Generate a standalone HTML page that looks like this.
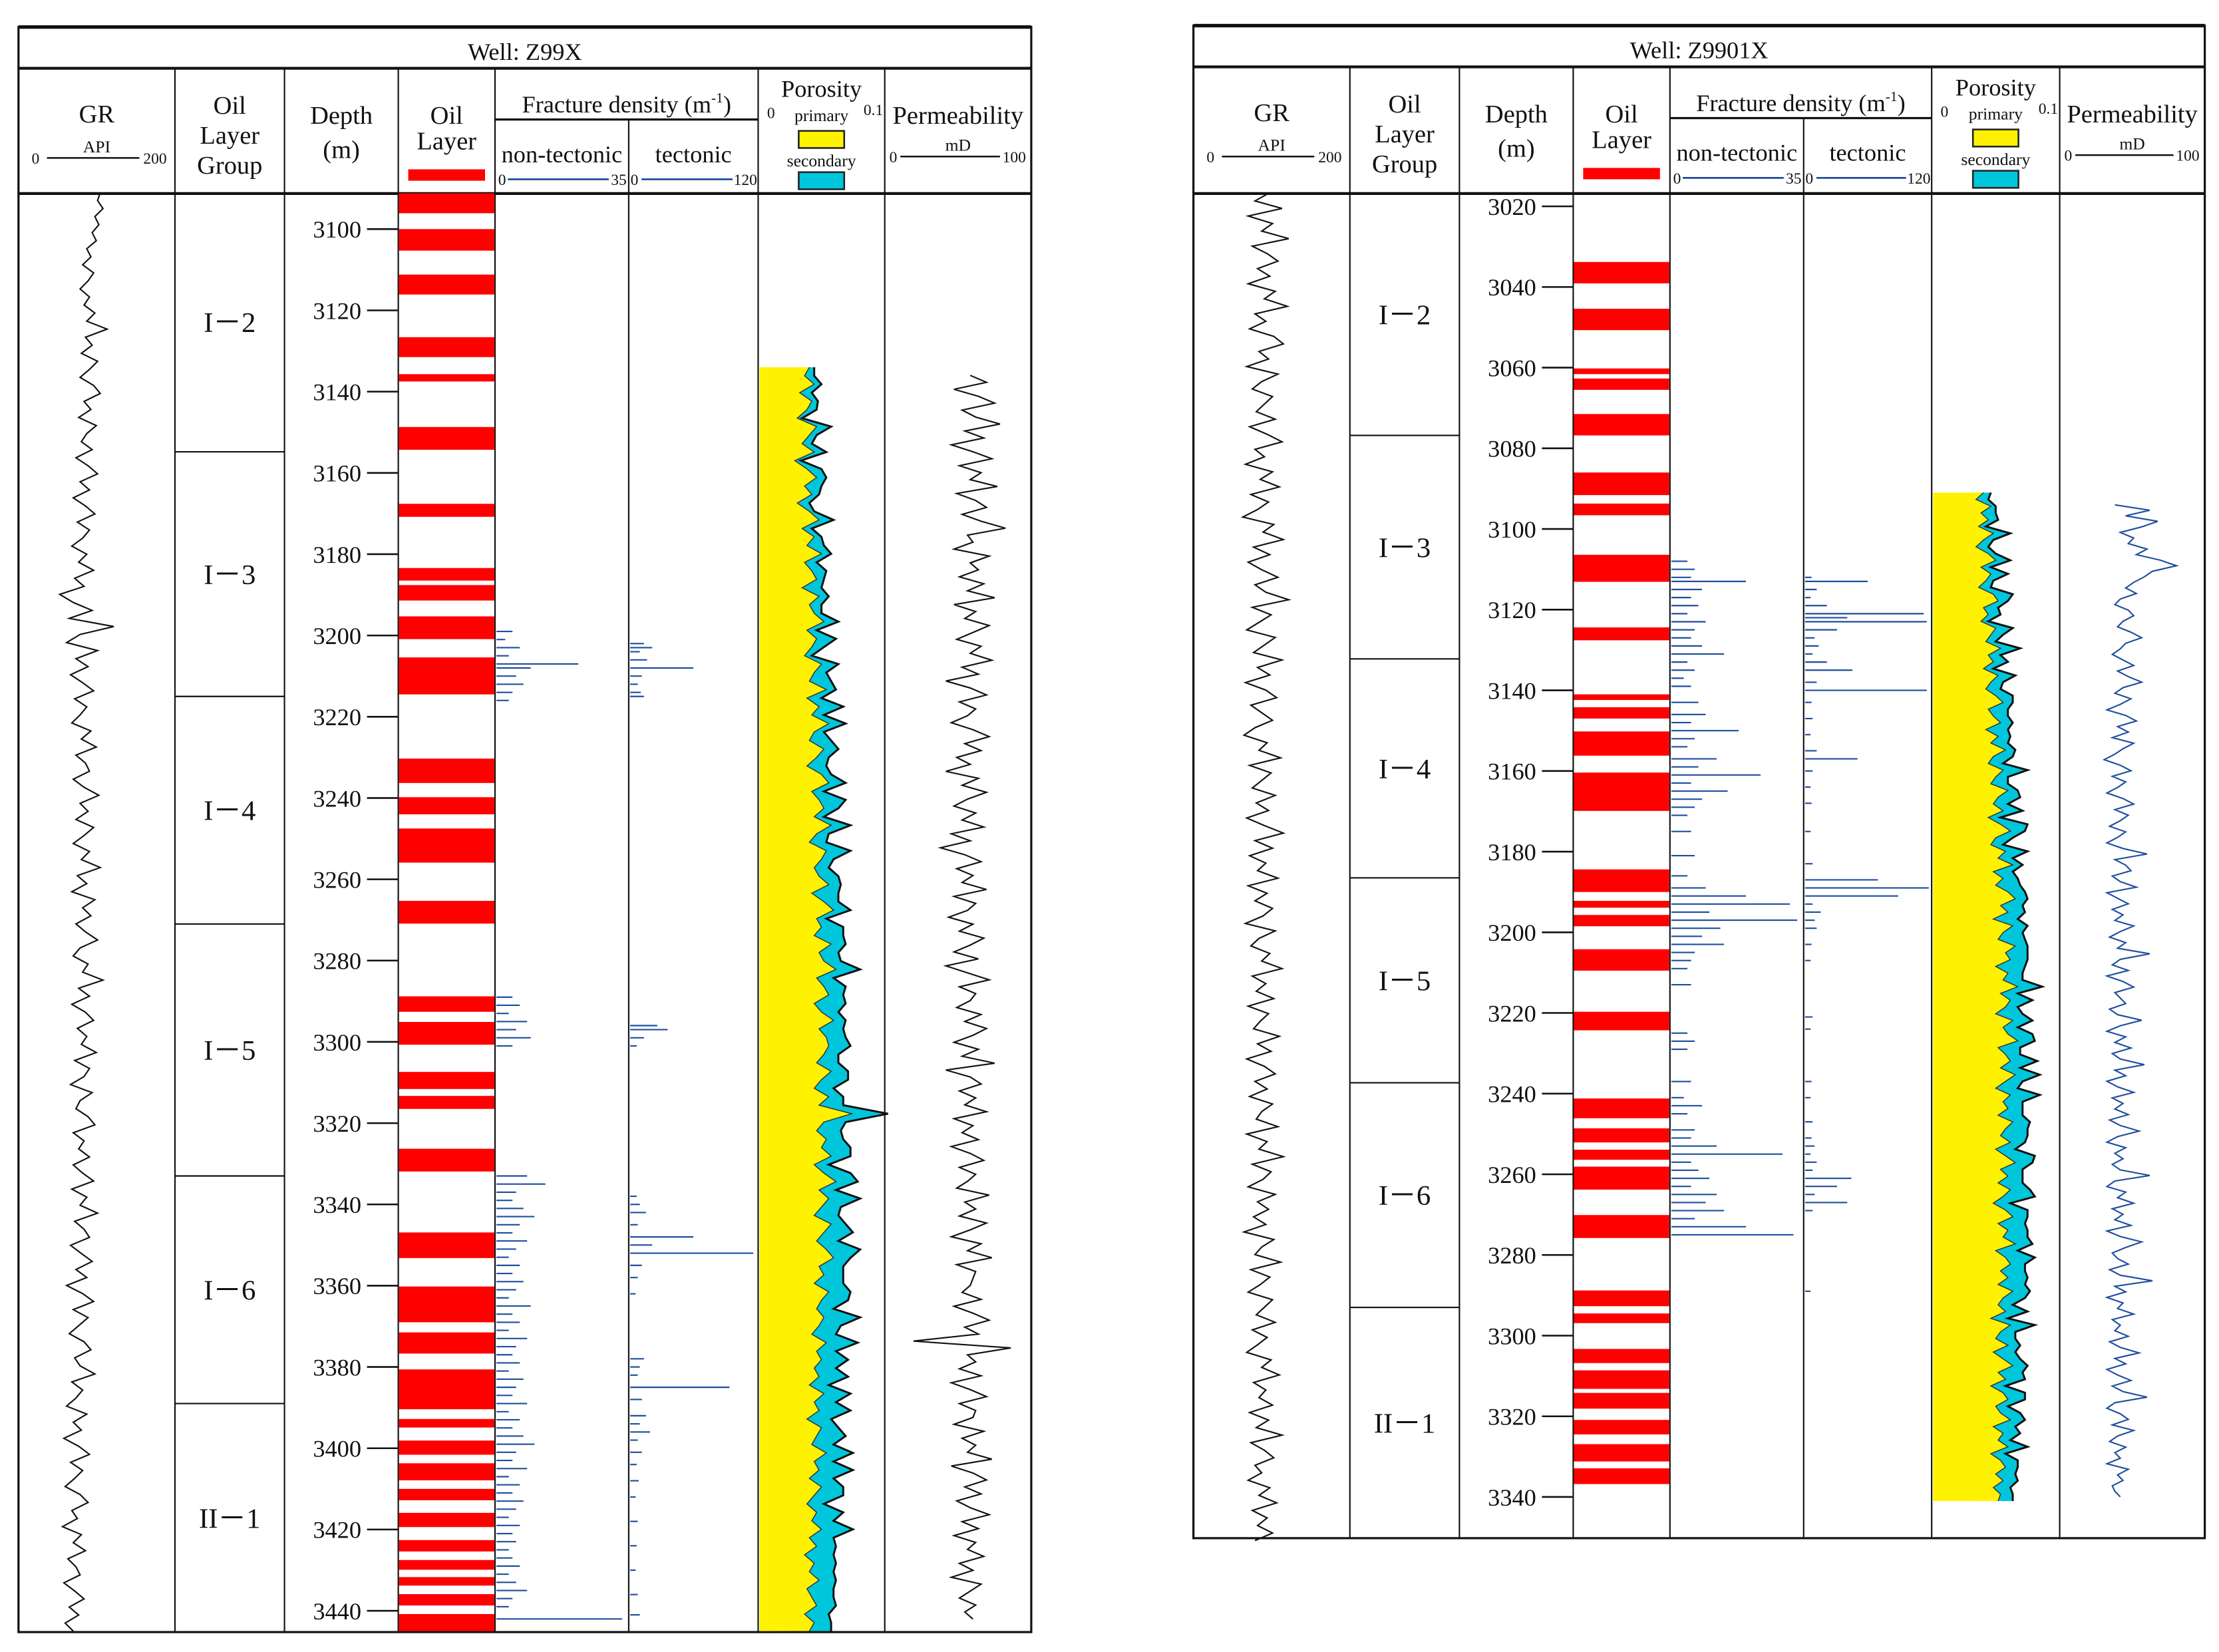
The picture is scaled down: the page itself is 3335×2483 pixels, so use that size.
<!DOCTYPE html>
<html><head><meta charset="utf-8"><style>
html,body{margin:0;padding:0;background:#fff;}
svg{display:block;}
text{font-family:"Liberation Serif","DejaVu Serif",serif;fill:#111;}
</style></head><body>
<svg id="chart" xmlns="http://www.w3.org/2000/svg" width="3335" height="2483" viewBox="0 0 1560 1161" preserveAspectRatio="none"></svg>
<script>
// ---------- Data: Well Z99X ----------
const w1Range=[3091,3445];
const w1Ticks=[3100,3120,3140,3160,3180,3200,3220,3240,3260,3280,3300,3320,3340,3360,3380,3400,3420,3440];
const w1Groups=['I－2','I－3','I－4','I－5','I－6','II－1'];
const w1GroupTops=[3091,3154.8,3215,3271,3333,3389];
const w1OilTop=[3091.2,3100,3111.2,3126.6,3135.7,3148.7,3167.6,3183.4,3187.6,3195.3,3205.4,3230.3,3239.8,3247.5,3265.3,3288.8,3295.1,3307.4,3313.3,3326.3,3346.9,3360.2,3371.5,3380.6,3392.8,3398.1,3403.7,3410,3415.9,3422.6,3427.5,3431.7,3435.9,3440.8];
const w1OilBot=[3096.1,3105.3,3116.1,3131.5,3137.5,3154.3,3170.8,3186.5,3191.4,3200.9,3214.5,3236.3,3244,3255.9,3270.9,3292.6,3300.7,3311.6,3316.5,3331.9,3353.2,3369,3376.7,3390.4,3394.9,3401.6,3407.9,3412.8,3419.4,3425.4,3429.9,3433.8,3438.7,3445];
const w1NtDepth=[3199,3201,3203,3205,3207,3208,3210,3212,3214,3216,3289,3291,3293,3295,3297,3299,3301,3333,3335,3337,3339,3341,3343,3345,3347,3349,3351,3353,3355,3357,3359,3361,3363,3365,3367,3369,3371,3373,3375,3377,3379,3381,3383,3385,3387,3389,3391,3393,3395,3397,3399,3401,3403,3405,3407,3409,3411,3413,3415,3417,3419,3421,3423,3425,3427,3429,3431,3433,3435,3437,3439,3442];
const w1NtVal=[4,2,6,3,22,9,5,7,4,3,4,6,3,8,5,9,4,8,13,5,4,7,10,6,4,8,5,3,6,4,7,5,3,9,4,6,3,8,5,4,6,3,7,5,4,8,3,6,4,7,10,5,4,8,3,6,4,7,5,3,6,4,5,3,4,6,3,5,8,4,3,34];
const w1TcDepth=[3202,3203,3204,3206,3208,3210,3212,3214,3215,3296,3297,3299,3301,3338,3340,3342,3345,3348,3350,3352,3355,3358,3362,3378,3380,3382,3385,3388,3392,3394,3396,3398,3401,3404,3408,3412,3418,3424,3430,3436,3441];
const w1TcVal=[12,20,8,15,60,10,6,9,12,25,35,12,5,5,8,14,6,60,20,118,10,6,4,12,8,6,95,10,14,8,18,6,10,5,7,4,6,5,4,6,8];
const w1Gr=[100,96,104,92,98,88,94,80,86,74,90,82,70,84,76,92,80,110,78,88,72,96,84,70,90,100,76,86,68,94,
80,72,88,64,82,96,70,84,60,78,92,66,84,74,58,80,68,90,62,76,40,60,88,54,120,70,50,96,64,82,
56,74,90,62,80,70,58,86,72,94,64,78,84,60,76,98,70,82,64,90,76,60,84,72,100,66,80,58,92,74,
86,64,78,96,70,60,82,74,104,68,84,58,78,90,66,80,72,94,62,84,76,56,88,70,64,82,92,60,76,68,
84,60,74,90,58,80,70,96,62,76,84,56,72,88,64,80,50,74,90,60,82,68,54,76,86,62,70,92,58,74,
64,50,80,60,72,46,68,84,56,74,62,48,70,82,58,66,44,72,60,78,52,64,70,46,62,76,54,68,48,60];
const w1PorRange=[3134,3445];
const w1PorPrimMilli=[40,36,44,32,42,38,30,46,40,34,44,28,38,46,36,42,30,40,48,34,44,38,50,36,42,46,34,48,40,44,
52,38,46,42,36,50,44,40,54,38,48,42,56,44,40,52,46,38,50,56,42,48,52,44,58,46,40,54,50,44,
48,56,42,52,60,46,50,44,58,48,52,62,46,52,56,44,50,60,48,54,56,52,46,58,50,44,56,48,75,52,
46,54,50,58,44,52,62,48,56,50,44,58,52,46,54,60,48,52,44,56,50,46,52,48,42,54,46,50,44,48,
40,52,44,48,38,50,46,42,54,44,48,40,50,44,38,46,42,50,40,46,36,44,40,48,38,42,46,36,44,40];
const w1PorSecMilli=[4,8,6,10,5,8,4,12,6,8,10,5,12,8,14,6,10,4,12,8,6,14,8,10,12,6,16,8,10,6,
12,8,16,10,6,14,10,18,8,12,20,10,14,8,18,12,10,16,8,14,10,22,12,8,16,10,14,20,10,12,
16,10,22,12,14,8,18,24,12,16,14,20,14,18,12,26,14,10,20,16,18,12,18,14,22,16,12,20,30,18,
20,14,24,16,12,22,18,14,26,16,20,12,24,18,28,14,20,16,24,18,22,14,30,18,20,26,16,22,18,24,
16,22,18,26,20,14,24,18,22,16,28,20,18,24,14,22,18,26,20,16,24,18,20,14,22,18,16,20,14,18];
const w1PermRange=[3136,3442];
const w1Perm=[58,70,46,64,76,52,62,80,54,68,44,60,74,50,66,58,78,48,62,70,52,66,84,56,60,46,72,58,64,50,
68,56,76,46,62,54,72,60,48,66,58,74,52,64,40,58,70,50,62,56,44,60,72,54,66,48,58,40,64,52,
70,56,46,62,52,68,44,58,36,54,66,48,60,52,70,46,62,56,42,60,50,68,58,46,64,40,56,72,50,62,
58,48,66,54,70,60,46,64,52,76,40,58,66,50,62,54,70,46,60,52,64,44,58,68,50,62,56,48,72,54,
62,50,70,58,44,66,56,74,48,62,60,58,52,66,46,60,72,54,64,16,88,56,62,50,66,44,58,70,50,62,
60,46,68,52,62,56,74,44,60,70,54,66,48,58,72,52,64,46,62,56,68,50,60,44,66,58,50,62,54,60];

// ---------- Data: Well Z9901X ----------
const w2Range=[3016.8,3350.8];
const w2Ticks=[3020,3040,3060,3080,3100,3120,3140,3160,3180,3200,3220,3240,3260,3280,3300,3320,3340];
const w2Groups=['I－2','I－3','I－4','I－5','I－6','II－1'];
const w2GroupTops=[3016.8,3076.8,3132.2,3186.5,3237.3,3293];
const w2OilTop=[3033.8,3045.4,3060.2,3062.7,3071.5,3086,3093.7,3106.4,3124.4,3141,3144.2,3150.2,3160.4,3184.4,3192.2,3195.7,3204.2,3219.7,3241.2,3248.6,3253.9,3258.1,3270.1,3288.8,3294.5,3303.3,3308.6,3314.2,3320.9,3326.9,3332.9];
const w2OilBot=[3039.1,3050.7,3061.6,3065.5,3076.8,3091.6,3096.6,3113.1,3127.6,3142.4,3147,3156.2,3169.9,3190,3193.9,3198.5,3209.5,3224.3,3246.1,3252.1,3256.4,3263.8,3275.8,3292.7,3296.9,3306.8,3313.2,3318.1,3324.5,3331.2,3336.8];
const w2NtDepth=[3108,3110,3112,3113,3115,3117,3119,3121,3123,3125,3127,3129,3131,3133,3135,3137,3139,3143,3146,3148,3150,3152,3154,3157,3159,3161,3163,3165,3167,3169,3171,3175,3181,3186,3189,3191,3193,3195,3197,3199,3201,3203,3205,3207,3209,3213,3225,3227,3229,3237,3241,3243,3245,3249,3251,3253,3255,3257,3259,3261,3263,3265,3267,3269,3271,3273,3275];
const w2NtVal=[4,6,5,20,8,5,7,4,9,6,5,8,14,4,6,3,5,7,9,5,18,6,4,12,7,24,5,15,8,6,4,5,6,4,9,20,32,10,34,13,8,14,6,5,4,5,4,6,4,5,3,8,4,6,5,12,30,5,7,10,5,12,9,14,6,20,33];
const w2TcDepth=[3112,3113,3115,3117,3119,3121,3122,3123,3125,3127,3129,3131,3133,3135,3138,3140,3143,3147,3151,3155,3157,3160,3164,3168,3175,3183,3187,3189,3191,3193,3195,3197,3199,3203,3207,3221,3224,3237,3241,3247,3251,3253,3255,3257,3259,3261,3263,3265,3267,3269,3289];
const w2TcVal=[5,60,10,4,20,115,40,118,30,8,12,6,20,45,10,118,5,6,4,10,50,6,4,5,4,6,70,120,90,6,14,8,10,5,4,6,4,5,4,6,5,8,4,10,6,44,30,8,40,6,4];
const w2Gr=[90,70,110,60,96,80,120,66,88,104,74,92,60,100,84,118,70,86,62,98,112,76,90,58,104,80,66,96,84,72,
100,62,88,110,70,84,56,96,78,106,64,90,74,52,98,82,112,68,92,60,80,104,70,86,120,66,94,76,58,100,
84,68,110,74,92,56,86,102,64,80,96,70,54,88,76,108,62,94,80,66,100,72,90,58,84,112,70,96,62,86,
74,104,60,88,70,96,82,56,100,76,64,92,80,110,66,86,72,98,60,90,78,68,106,74,94,58,84,100,70,88,
62,96,80,72,104,58,88,76,112,66,94,82,60,100,74,90,68,86,54,98,80,70,108,64,92,78,60,96,84,72,
100,66,88,74,58,94,80,106,68,86,76,96,62,90,72,110,64,84,98,70,80,60,92,76,102,66,88,74,96,70];
const w2PorRange=[3091,3341];
const w2PorPrimMilli=[40,34,46,38,44,36,48,40,34,44,50,38,46,42,36,48,52,40,44,38,50,46,42,54,44,48,40,52,46,42,
50,56,44,48,54,42,52,46,58,48,44,56,50,46,60,52,48,56,44,54,62,50,46,58,52,64,48,56,50,60,
66,54,60,48,64,56,52,66,58,62,50,60,56,68,54,62,58,50,64,56,60,68,52,58,62,54,66,58,50,62,
56,60,52,64,58,54,62,50,58,66,54,60,52,62,56,48,58,64,52,60,56,66,50,58,62,54,60,52,64,56,
52,58,46,62,54,50,60,48,56,64,52,58,46,56,60,50,54,62,48,56,52,60,46,54,58,50,56,48,54,52];
const w2PorSecMilli=[6,10,4,12,8,6,14,8,10,6,12,8,14,6,10,16,8,12,10,6,14,10,8,16,10,12,8,14,10,12,
14,8,16,12,10,18,10,14,8,16,12,20,10,14,8,18,12,16,10,22,12,14,10,18,12,8,16,12,20,14,
10,18,14,20,12,16,22,10,18,14,24,12,16,20,14,18,10,22,16,12,20,14,18,12,22,16,20,14,18,24,
16,12,20,14,18,22,12,16,24,14,18,12,20,16,26,14,18,12,22,16,20,14,18,24,12,20,16,22,14,18,
12,18,14,20,12,16,10,18,14,12,20,16,12,18,14,10,16,12,18,14,10,16,12,14,10,16,12,14,10,12];
const w2PermRange=[3094,3340];
const w2Perm=[36,62,44,68,56,40,50,46,60,52,70,82,64,58,50,44,52,40,36,46,50,42,38,48,56,44,40,34,42,50,
38,46,56,42,36,48,40,30,44,52,38,46,34,50,42,36,28,40,48,34,44,38,30,42,50,36,46,40,32,44,
38,30,42,60,36,44,48,34,40,52,30,38,46,34,42,36,50,40,32,44,38,62,40,34,46,30,42,50,36,40,
44,32,38,56,40,30,44,36,48,34,40,58,36,44,30,38,50,34,42,36,46,32,40,54,38,30,44,36,42,34,
40,62,36,30,44,38,50,34,42,36,48,30,40,56,44,34,38,46,32,40,64,36,44,30,42,38,50,34,40,36,
46,32,40,54,36,44,30,38,48,34,42,60,36,30,40,46,34,50,38,32,44,36,40,30,46,38,42,34,36,40];

const NS='http://www.w3.org/2000/svg';
const svg=document.getElementById('chart');
function mk(tag,a,parent){const e=document.createElementNS(NS,tag);for(const k in a)e.setAttribute(k,a[k]);(parent||svg).appendChild(e);return e;}
function tx(s,x,y,size,anchor,parent){const e=mk('text',{x:x,y:y,'font-size':size,'text-anchor':anchor||'middle'},parent);e.textContent=s;return e;}

function drawWell(P,D){
  const g=mk('g',{});
  
  
  const c=P.cols;
  const yOf=d=>P.y0+(d-P.d0)*P.k;
  const yE=P.yE, yB=P.yB, yH=P.yH;
  let e=mk('rect',{x:P.x0,y:P.yT,width:P.x1-P.x0,height:yE-P.yT,fill:'none',stroke:'#111','stroke-width':1.5},g);
  
  
  e=mk('line',{x1:P.x0,x2:P.x1,y1:P.yT,y2:P.yT,stroke:'#111','stroke-width':2.5},g);
  
  
  e=mk('line',{x1:P.x0,x2:P.x1,y1:yH,y2:yH,stroke:'#111','stroke-width':2},g);
  
  
  e=mk('line',{x1:P.x0,x2:P.x1,y1:yB,y2:yB,stroke:'#111','stroke-width':2},g);
  
  
  for(let i=1;i<c.length-1;i++){
    if(i===5){e=mk('line',{x1:c[i],x2:c[i],y1:P.fd,y2:yE,stroke:'#111','stroke-width':1},g);}
    else {e=mk('line',{x1:c[i],x2:c[i],y1:yH,y2:yE,stroke:'#111','stroke-width':1},g);}
    
    
  }
  e=mk('line',{x1:c[4],x2:c[6],y1:P.fd,y2:P.fd,stroke:'#111','stroke-width':1.5},g);
  
  
  e=tx(P.title,(P.x0+P.x1)/2,P.yT+23,17,'middle',g);
  
  
  const m=(a,b)=>(c[a]+c[b])/2;
  e=tx('GR',m(0,1),yH+38,18,'middle',g);
  
  
  e=tx('API',m(0,1),yH+59,12,'middle',g);
  
  
  e=mk('line',{x1:c[0]+20,x2:c[1]-25,y1:yH+63,y2:yH+63,stroke:'#111','stroke-width':1.2},g);
  
  
  e=tx('0',c[0]+12,yH+67,11,'middle',g);
  
  
  e=tx('200',c[1]-14,yH+67,11,'middle',g);
  
  
  ['Oil','Layer','Group'].forEach((s,i)=>{e=tx(s,m(1,2),yH+32+i*21,18,'middle',g);
    
    });
  e=tx('Depth',m(2,3),yH+39,18,'middle',g);
  
  
  e=tx('(m)',m(2,3),yH+63,18,'middle',g);
  
  
  e=tx('Oil',m(3,4),yH+39,18,'middle',g);
  
  
  e=tx('Layer',m(3,4),yH+57,18,'middle',g);
  
  
  e=mk('rect',{x:m(3,4)-27,y:yH+71,width:54,height:8,fill:'#ff0000'},g);
  
  
  e=mk('text',{x:m(4,6),y:yH+31,'font-size':17,'text-anchor':'middle'},g);
  e.innerHTML='Fracture density (m<tspan font-size="10" dy="-7">-1</tspan><tspan dy="7">)</tspan>';
  
  
  e=tx('non-tectonic',m(4,5),yH+66,17,'middle',g);
  
  
  e=tx('tectonic',m(5,6),yH+66,17,'middle',g);
  
  
  e=mk('line',{x1:c[4]+9,x2:c[5]-14,y1:yH+78,y2:yH+78,stroke:'#1f4e9c','stroke-width':1.3},g);
  
  
  e=tx('0',c[4]+5,yH+82,11,'middle',g);
  
  
  e=tx('35',c[5]-7,yH+82,11,'middle',g);
  
  
  e=mk('line',{x1:c[5]+9,x2:c[6]-18,y1:yH+78,y2:yH+78,stroke:'#1f4e9c','stroke-width':1.3},g);
  
  
  e=tx('0',c[5]+4,yH+82,11,'middle',g);
  
  
  e=tx('120',c[6]-9,yH+82,11,'middle',g);
  
  
  e=tx('Porosity',m(6,7),yH+20,17,'middle',g);
  
  
  e=tx('0',c[6]+9,yH+35,11,'middle',g);
  
  
  e=tx('0.1',c[7]-8,yH+33,11,'middle',g);
  
  
  e=tx('primary',m(6,7),yH+37,12,'middle',g);
  
  
  e=mk('rect',{x:m(6,7)-16,y:yH+44,width:32,height:12,fill:'#fff200',stroke:'#222','stroke-width':1.2},g);
  
  
  e=tx('secondary',m(6,7),yH+69,12,'middle',g);
  
  
  e=mk('rect',{x:m(6,7)-16,y:yH+73,width:32,height:12,fill:'#00c6dc',stroke:'#222','stroke-width':1.2},g);
  
  
  e=tx('Permeability',m(7,8),yH+39,18,'middle',g);
  
  
  e=tx('mD',m(7,8),yH+58,12,'middle',g);
  
  
  e=mk('line',{x1:c[7]+11,x2:c[8]-22,y1:yH+62,y2:yH+62,stroke:'#111','stroke-width':1.2},g);
  
  
  e=tx('0',c[7]+6,yH+66,11,'middle',g);
  
  
  e=tx('100',c[8]-12,yH+66,11,'middle',g);
  
  

  D.ticks.forEach(t=>{const y=yOf(t);
    e=mk('line',{x1:c[3]-22,x2:c[3],y1:y,y2:y,stroke:'#111','stroke-width':1.2},g);
    
    
    e=tx(String(t),c[3]-26,y+6,17,'end',g);
    
    
  });
  D.groups.forEach((s,i)=>{const top=yOf(D.groupTops[i]);const bot=i<D.groups.length-1?yOf(D.groupTops[i+1]):yE;
    if(i>0){e=mk('line',{x1:c[1],x2:c[2],y1:top,y2:top,stroke:'#111','stroke-width':1},g);
      
      }
    e=tx(s,m(1,2),(top+bot)/2+7,20,'middle',g);
    
    
  });
  D.oilTop.forEach((t,i)=>{const y1=yOf(t),y2=yOf(D.oilBot[i]);
    e=mk('rect',{x:c[3]+0.5,y:y1,width:c[4]-c[3]-1,height:Math.max(2,y2-y1),fill:'#ff0000'},g);
    
    
  });
  const series=(vals,range)=>vals.map((v,i)=>[v,yOf(range[0]+(range[1]-range[0])*i/(vals.length-1))]);
  const grX=v=>c[0]+10+v/200*(c[1]-c[0]-15);
  let pts=series(D.gr,D.range).map(p=>grX(p[0]).toFixed(1)+','+p[1].toFixed(1)).join(' ');
  e=mk('polyline',{points:pts,fill:'none',stroke:'#111','stroke-width':1},g);
  
  
  const ntX=v=>c[4]+2+v/35*(c[5]-c[4]-4);
  D.ntDepth.forEach((d,i)=>{const y=yOf(d);
    e=mk('line',{x1:c[4]+1,x2:ntX(D.ntVal[i]),y1:y,y2:y,stroke:'#1f4e9c','stroke-width':1},g);
    
    });
  const tcX=v=>c[5]+2+v/120*(c[6]-c[5]-4);
  D.tcDepth.forEach((d,i)=>{const y=yOf(d);
    e=mk('line',{x1:c[5]+1,x2:tcX(D.tcVal[i]),y1:y,y2:y,stroke:'#1f4e9c','stroke-width':1},g);
    
    });
  const pX=v=>c[6]+2+v/100*(c[7]-c[6]-4);
  const prim=series(D.porPrim,D.porRange);
  const tot=prim.map((p,i)=>[p[0]+D.porSec[i],p[1]]);
  const pp=prim.map(p=>pX(p[0]).toFixed(1)+','+p[1].toFixed(1));
  const tp=tot.map(p=>pX(p[0]).toFixed(1)+','+p[1].toFixed(1));
  e=mk('polygon',{points:tp.concat(pp.slice().reverse()).join(' '),fill:'#00c6dc',stroke:'none'},g);
  
  
  const y0p=prim[0][1],y1p=prim[prim.length-1][1];
  e=mk('polygon',{points:[(c[6]+1)+','+y0p].concat(pp,[(c[6]+1)+','+y1p]).join(' '),fill:'#fff200',stroke:'none'},g);
  
  
  e=mk('polyline',{points:pp.join(' '),fill:'none',stroke:'#333','stroke-width':0.7},g);
  
  
  e=mk('polyline',{points:tp.join(' '),fill:'none',stroke:'#111','stroke-width':1.4},g);
  
  
  const kX=v=>c[7]+5+v/100*(c[8]-c[7]-8);
  pts=series(D.perm,D.permRange).map(p=>kX(p[0]).toFixed(1)+','+p[1].toFixed(1)).join(' ');
  e=mk('polyline',{points:pts,fill:'none',stroke:P.permColor,'stroke-width':1},g);
  
  
}

drawWell({name:'well-z99x',title:'Well: Z99X',x0:13,x1:725,yT:19,yH:48,yB:136,yE:1147,fd:84,cols:[13,123,200,280,348,442,533,622,725],d0:3100,y0:161,k:57.12/20,permColor:'#111'},
 {range:w1Range,ticks:w1Ticks,groups:w1Groups,groupTops:w1GroupTops,oilTop:w1OilTop,oilBot:w1OilBot,ntDepth:w1NtDepth,ntVal:w1NtVal,tcDepth:w1TcDepth,tcVal:w1TcVal,gr:w1Gr,porRange:w1PorRange,porPrim:w1PorPrimMilli,porSec:w1PorSecMilli,permRange:w1PermRange,perm:w1Perm});
drawWell({name:'well-z9901x',title:'Well: Z9901X',x0:839,x1:1550,yT:18,yH:47,yB:136,yE:1081,fd:83,cols:[839,949,1026,1106,1174,1268,1358,1448,1550],d0:3020,y0:145,k:56.69/20,permColor:'#1f4e9c'},
 {range:w2Range,ticks:w2Ticks,groups:w2Groups,groupTops:w2GroupTops,oilTop:w2OilTop,oilBot:w2OilBot,ntDepth:w2NtDepth,ntVal:w2NtVal,tcDepth:w2TcDepth,tcVal:w2TcVal,gr:w2Gr,porRange:w2PorRange,porPrim:w2PorPrimMilli,porSec:w2PorSecMilli,permRange:w2PermRange,perm:w2Perm});
</script>
</body></html>
